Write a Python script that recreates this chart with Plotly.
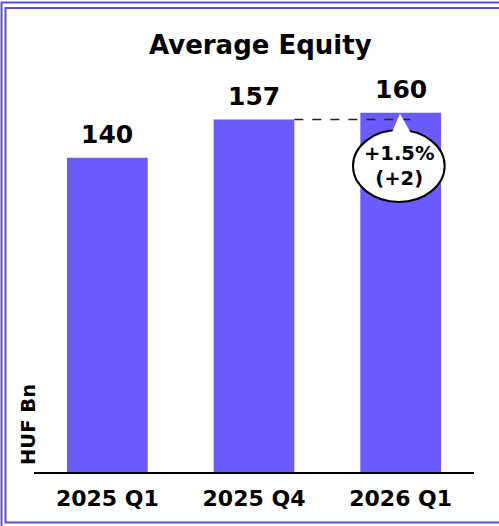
import plotly.graph_objects as go

categories = ["2025 Q1", "2025 Q4", "2026 Q1"]
values = [140, 157, 160]
title_text = "Average Equity"
axis_label = "HUF Bn"
change_pct = "+1.5%"
change_abs = "(+2)"

BAR = "#6A5CFF"
FONT = "DejaVu Sans"
W, H = 499, 526
ML, MR, MT, MB = 34, 25, 60, 54
PW, PH = W - ML - MR, H - MT - MB
YMAX = PH / 2.245


def px(xp):
    return (xp - ML) / PW


def py(yp):
    return (H - MB - yp) / PH


fig = go.Figure()
fig.add_trace(go.Bar(x=list(range(len(categories))), y=values, width=0.55,
                     marker=dict(color=BAR, line=dict(width=0)), hoverinfo="skip"))

annotations = []
for i, v in enumerate(values):
    annotations.append(dict(x=i, y=v, xref="x", yref="y", text=f"<b>{v}</b>",
                            showarrow=False, yanchor="bottom", yshift=7,
                            font=dict(family=FONT, size=25, color="black")))

annotations.append(dict(x=px(260), y=py(45), xref="paper", yref="paper",
                        text=f"<b>{title_text}</b>", showarrow=False,
                        xanchor="center", yanchor="middle",
                        font=dict(family=FONT, size=26, color="black")))
annotations.append(dict(x=px(28), y=py(425), xref="paper", yref="paper",
                        text=f"<b>{axis_label}</b>", showarrow=False, textangle=-90,
                        xanchor="center", yanchor="middle",
                        font=dict(family=FONT, size=19.5, color="black")))

# callout
last = len(values) - 1
prev = values[-2]
cur = values[-1]
ell_y0, ell_y1 = cur - 39.7, cur - 7.7
shapes = []
shapes.append(dict(type="line", xref="x", yref="y", x0=last - 1 + 0.275, x1=last + 0.065,
                   y0=prev, y1=prev, line=dict(color="#222222", width=1.5, dash="dash")))
shapes.append(dict(type="circle", xref="x", yref="y", x0=last - 0.325, x1=last + 0.30,
                   y0=ell_y0, y1=ell_y1, fillcolor="white",
                   line=dict(color="black", width=2)))
shapes.append(dict(type="path", xref="x", yref="y",
                   path=f"M {last - 0.06} {ell_y1 - 1.2} L {last - 0.005} {cur - 0.3} L {last + 0.068} {ell_y1 - 1.2} Z",
                   fillcolor="white", line=dict(width=0)))
annotations.append(dict(x=last - 0.01, y=(ell_y0 + ell_y1) / 2, xref="x", yref="y",
                        text=f"<b>{change_pct}<br>{change_abs}</b>", showarrow=False,
                        xanchor="center", yanchor="middle",
                        font=dict(family=FONT, size=19.5, color="black")))

# frame
shapes.append(dict(type="rect", xref="paper", yref="paper", x0=px(1.5), x1=px(560),
                   y0=py(560), y1=py(2.5), line=dict(color="#5A52C8", width=2)))
shapes.append(dict(type="rect", xref="paper", yref="paper", x0=px(5.5), x1=px(560),
                   y0=py(522.5), y1=py(8), line=dict(color="#5A52C8", width=2)))

fig.update_layout(
    width=W, height=H, margin=dict(l=ML, r=MR, t=MT, b=MB),
    paper_bgcolor="white", plot_bgcolor="white", showlegend=False,
    annotations=annotations, shapes=shapes,
    xaxis=dict(tickmode="array", tickvals=list(range(len(categories))), ticktext=[f"<b>{c}</b>" for c in categories],
               range=[-0.5, len(categories) - 0.5], showline=True, linecolor="black", linewidth=1.5,
               ticks="", showgrid=False, zeroline=False, ticklabelstandoff=6,
               tickfont=dict(family=FONT, size=22, color="black")),
    yaxis=dict(range=[0, YMAX], visible=False, showgrid=False, zeroline=False),
)

fig.write_html("out.html", config={"displayModeBar": False},
               post_script="document.body.style.margin='0';document.body.style.overflow='hidden';")
